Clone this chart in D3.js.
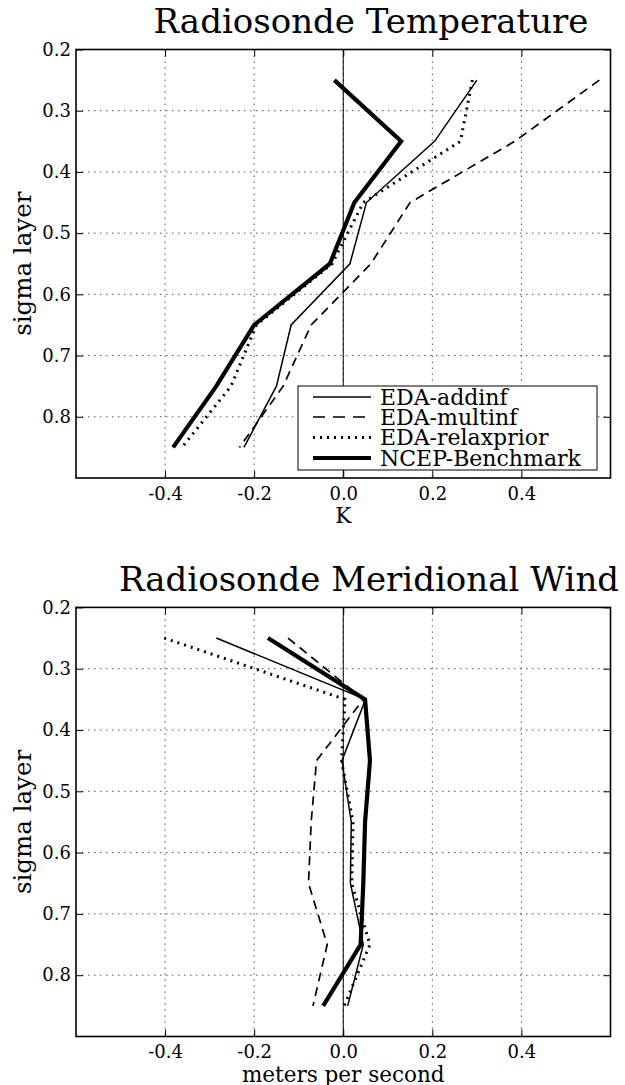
<!DOCTYPE html>
<html>
<head>
<meta charset="utf-8">
<script src="https://cdn.jsdelivr.net/npm/d3@7"></script>
<style>
  body { margin: 0; background: #fff; }
  svg { display: block; }
  text { font-family: "DejaVu Serif", serif; fill: #000; }
</style>
</head>
<body>
<svg id="chart" width="625" height="1085"></svg>
<script>
// sigma levels shared by both profiles
const sigma = [0.25, 0.35, 0.45, 0.55, 0.65, 0.75, 0.85];
const seriesNames = ["EDA-addinf", "EDA-multinf", "EDA-relaxprior", "NCEP-Benchmark"];

// temperature bias profiles (K)
const tempAddinf   = [0.300, 0.205, 0.052, 0.015, -0.117, -0.150, -0.223];
const tempMultinf  = [0.575, 0.385, 0.150, 0.062, -0.072, -0.135, -0.233];
const tempRelax    = [0.290, 0.263, 0.045, -0.025, -0.195, -0.252, -0.362];
const tempNcep     = [-0.020, 0.130, 0.025, -0.030, -0.200, -0.285, -0.382];

// meridional wind bias profiles (m/s)
const windAddinf   = [-0.285, 0.050, -0.003, 0.018, 0.016, 0.045, 0.010];
const windMultinf  = [-0.124, 0.045, -0.060, -0.072, -0.078, -0.036, -0.068];
const windRelax    = [-0.402, 0.004, -0.004, 0.022, 0.019, 0.060, 0.002];
const windNcep     = [-0.169, 0.049, 0.060, 0.049, 0.045, 0.039, -0.045];

const xTicks = [-0.4, -0.2, 0.0, 0.2, 0.4];
const yTicks = [0.2, 0.3, 0.4, 0.5, 0.6, 0.7, 0.8];

// line styles for the four experiments
const styles = [
  { width: 1.5, dash: null },
  { width: 1.7, dash: "9,6" },
  { width: 3.0, dash: "2,5" },
  { width: 4.2, dash: null }
];

const svg = d3.select("#chart");
const left = 76, right = 610.5;
const fmt = d => d.toFixed(1);

function panel(opts) {
  const x = d3.scaleLinear().domain([-0.6, 0.6]).range([left, right]);
  const y = d3.scaleLinear().domain([0.2, 0.9]).range([opts.top, opts.bottom]);
  const g = svg.append("g");

  // dotted grid
  g.append("g").selectAll("line").data(xTicks).join("line")
    .attr("x1", d => x(d)).attr("x2", d => x(d))
    .attr("y1", opts.top).attr("y2", opts.bottom)
    .attr("stroke", "#555").attr("stroke-width", 1).attr("stroke-dasharray", "1.5,4.5");
  g.append("g").selectAll("line").data(yTicks.filter(d => d > 0.2)).join("line")
    .attr("x1", left).attr("x2", right)
    .attr("y1", d => y(d)).attr("y2", d => y(d))
    .attr("stroke", "#555").attr("stroke-width", 1).attr("stroke-dasharray", "1.5,4.5");

  // zero reference line
  g.append("line")
    .attr("x1", x(0)).attr("x2", x(0)).attr("y1", opts.top).attr("y2", opts.bottom)
    .attr("stroke", "#000").attr("stroke-width", 1);

  // profiles
  const line = d3.line().x(d => x(d[0])).y(d => y(d[1]));
  opts.series.forEach((vals, i) => {
    g.append("path")
      .datum(vals.map((v, k) => [v, sigma[k]]))
      .attr("d", line)
      .attr("fill", "none")
      .attr("stroke", "#000")
      .attr("stroke-width", styles[i].width)
      .attr("stroke-dasharray", styles[i].dash)
      .attr("stroke-linejoin", "miter");
  });

  // axes with inward ticks
  const ax = (a) => a.tickSizeOuter(0).tickSizeInner(-7);
  g.append("g").attr("transform", `translate(${left},0)`)
    .call(ax(d3.axisLeft(y).tickValues(yTicks).tickFormat(fmt).tickPadding(5)));
  g.append("g").attr("transform", `translate(${right},0)`)
    .call(ax(d3.axisRight(y).tickValues(yTicks).tickFormat("")));
  g.append("g").attr("transform", `translate(0,${opts.bottom})`)
    .call(ax(d3.axisBottom(x).tickValues(xTicks).tickFormat(fmt).tickPadding(9)));
  g.append("g").attr("transform", `translate(0,${opts.top})`)
    .call(ax(d3.axisTop(x).tickValues(xTicks).tickFormat("")));
  g.selectAll(".domain").remove();
  g.selectAll(".tick line").attr("stroke", "#000").attr("stroke-width", 1);
  g.selectAll(".tick text").attr("font-family", "DejaVu Serif").attr("font-size", 18).attr("fill", "#000");

  // frame
  g.append("rect")
    .attr("x", left).attr("y", opts.top)
    .attr("width", right - left).attr("height", opts.bottom - opts.top)
    .attr("fill", "none").attr("stroke", "#000").attr("stroke-width", 1.6);

  // texts
  g.append("text").attr("x", opts.titleX).attr("y", opts.top - 16.5)
    .attr("text-anchor", "middle").attr("font-size", 34).text(opts.title);
  g.append("text").attr("x", x(0)).attr("y", opts.bottom + 45)
    .attr("text-anchor", "middle").attr("font-size", 21.5).text(opts.xlabel);
  g.append("text")
    .attr("transform", `translate(31,${(opts.top + opts.bottom) / 2}) rotate(-90)`)
    .attr("text-anchor", "middle").attr("font-size", 24.5).text("sigma layer");

  if (opts.legend) {
    const lx = 298, ly = 386, lw = 299, lh = 84;
    const lg = g.append("g");
    lg.append("rect").attr("x", lx).attr("y", ly).attr("width", lw).attr("height", lh)
      .attr("fill", "#fff").attr("stroke", "#000").attr("stroke-width", 1);
    const rows = [397, 417, 437.5, 458];
    seriesNames.forEach((name, i) => {
      lg.append("line").attr("x1", 313).attr("x2", 371)
        .attr("y1", rows[i]).attr("y2", rows[i])
        .attr("stroke", "#000").attr("stroke-width", styles[i].width)
        .attr("stroke-dasharray", i === 1 ? "12,8" : styles[i].dash);
      lg.append("text").attr("x", 380).attr("y", rows[i] + 7.5)
        .attr("font-size", 22).text(name);
    });
  }
}

panel({
  top: 49.5, bottom: 478,
  title: "Radiosonde Temperature", titleX: 371,
  xlabel: "K",
  series: [tempAddinf, tempMultinf, tempRelax, tempNcep],
  legend: true
});

panel({
  top: 607.4, bottom: 1036.5,
  title: "Radiosonde Meridional Wind", titleX: 369,
  xlabel: "meters per second",
  series: [windAddinf, windMultinf, windRelax, windNcep],
  legend: false
});
</script>
</body>
</html>
